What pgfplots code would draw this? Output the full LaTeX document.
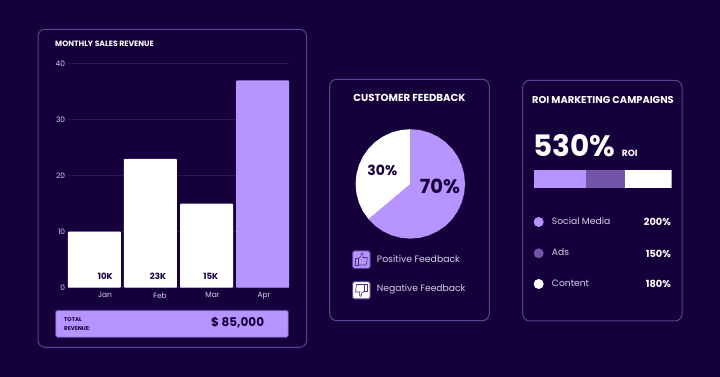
\documentclass[border=0pt]{standalone}
\usepackage{fontspec}
\setmainfont{Poppins}
\usepackage{pgfplots}
\pgfplotsset{compat=1.18}
\definecolor{bgc}{HTML}{15003C}
\definecolor{pur}{HTML}{B794FF}
\definecolor{mid}{HTML}{7354A6}
\definecolor{bord}{HTML}{5C4296}
\definecolor{gridc}{HTML}{2B1558}
\definecolor{lav}{HTML}{D8CFE8}
\newcommand{\fs}[1]{\fontsize{#1}{#1}\selectfont}
\begin{document}
\begin{tikzpicture}
% page background
\fill[bgc] (0,0) rectangle (720pt,377pt);
\begin{scope}[x=1pt,y=-1pt,yshift=377pt]
\draw[bord,line width=1pt,rounded corners=7pt] (38,29.3) rectangle (306.7,347.3);
\draw[bord,line width=1pt,rounded corners=7pt] (329.7,79.3) rectangle (489.3,320.7);
\draw[bord,line width=1pt,rounded corners=7pt] (522.7,80.3) rectangle (682,321);
\end{scope}
% bar chart
\begin{axis}[
  at={(67.7pt,89.3pt)},anchor=south west,
  scale only axis,width=221.6pt,height=224pt,
  xmin=-0.473,xmax=3.473,ymin=0,ymax=40,
  axis line style={draw=none},
  tick style={draw=none},
  xtick=\empty,
  ytick={0,10,20,30,40},
  ymajorgrids,grid style={gridc,line width=0.8pt},
  yticklabel style={text=lav,font=\fs{7.5},xshift=1pt},
  /pgf/number format/assume math mode=true,
  ybar,bar width=53pt,
  clip=false]
\addplot[bar shift=0pt,fill=white,draw=none,rounded corners=0.8pt] coordinates {(0,10) (1,23) (2,15)};
\addplot[bar shift=0pt,fill=pur,draw=none,rounded corners=0.8pt] coordinates {(3,37)};
\end{axis}
% pie and stacked ROI bar
\begin{axis}[
  at={(355.6pt,138.4pt)},anchor=south west,
  scale only axis,width=109.4pt,height=109.4pt,
  xmin=-1,xmax=1,ymin=-1,ymax=1,
  hide axis,clip=false]
\addplot[fill=pur,draw=none] coordinates {(0,0) (0,1) (.1736,.9848) (.342,.9397) (.5,.866) (.6428,.766) (.766,.6428) (.866,.5) (.9397,.342) (.9848,.1736) (1,0) (.9848,-.1736) (.9397,-.342) (.866,-.5) (.766,-.6428) (.6428,-.766) (.5,-.866) (.342,-.9397) (.1736,-.9848) (0,-1) (-.1736,-.9848) (-.342,-.9397) (-.5,-.866) (-.6428,-.766) (-.766,-.6428)} -- cycle;
\addplot[fill=white,draw=none] coordinates {(0,0) (-.766,-.6428) (-.866,-.5) (-.9397,-.342) (-.9848,-.1736) (-1,0) (-.9848,.1736) (-.9397,.342) (-.866,.5) (-.766,.6428) (-.6428,.766) (-.5,.866) (-.342,.9397) (-.1736,.9848) (0,1)} -- cycle;
\end{axis}
\begin{axis}[
  at={(533.7pt,189.3pt)},anchor=south west,
  scale only axis,width=138pt,height=17.4pt,
  xmin=0,xmax=530,ymin=0,ymax=1,
  hide axis,xbar stacked,bar width=17.4pt,bar shift=0pt]
\addplot[fill=pur,draw=none] coordinates {(200,0.5)};
\addplot[fill=mid,draw=none] coordinates {(150,0.5)};
\addplot[fill=white,draw=none] coordinates {(180,0.5)};
\end{axis}
\begin{scope}[x=1pt,y=-1pt,yshift=377pt]
% texts panel 1
\node[anchor=west,inner sep=0,text=white,font=\fs{7.7}\bfseries] at (55,44) {MONTHLY SALES REVENUE};
\foreach \x/\y/\t in {105/295/Jan,160/295.5/Feb,212.5/294.7/Mar,264/296/Apr}
  \node[text=lav,font=\fs{7.5},inner sep=0] at (\x,\y) {\t};
\foreach \x/\t in {105.3/10K,158/23K,210.7/15K}
  \node[text=bgc,font=\fs{8.6}\bfseries,inner sep=0] at (\x,276.7) {\t};
\fill[pur,draw=bord,line width=0.8pt,rounded corners=1.5pt] (55.7,310.3) rectangle (288.3,337.3);
\node[anchor=west,inner sep=0,text=bgc,font=\fs{5.5}\bfseries] at (64,319.5) {TOTAL};
\node[anchor=west,inner sep=0,text=bgc,font=\fs{5.5}\bfseries] at (64,328.5) {REVENUE:};
\node[anchor=west,inner sep=0,text=bgc,font=\fs{12}\bfseries] at (211,322.7) {\$ 85,000};
% panel 2
\node[inner sep=0,text=white,font=\fs{10.2}\bfseries] at (409.5,98) {CUSTOMER FEEDBACK};
\node[inner sep=0,text=bgc,font=\fs{19.5}\bfseries] at (440,186) {70\%};
\node[inner sep=0,text=bgc,font=\fs{14}\bfseries] at (382.3,170) {30\%};
\fill[pur,draw=bord,line width=1pt,rounded corners=1.5pt] (352.7,251) rectangle (370,268.3);
\fill[white,draw=bord,line width=1pt,rounded corners=1.5pt] (352.7,281.7) rectangle (370,299);
\begin{scope}[line width=0.6pt,draw=bord!70!bgc,line join=round]
\draw (355.5,258.5) rectangle (358.3,265);
\draw (358.3,258.7) -- (360.8,256.5) -- (361.5,253.3) -- (362.8,253.6) -- (363,257.5) -- (367.3,257.5) -- (366.3,265) -- (358.3,265);
\draw (367,284.5) rectangle (364.3,291);
\draw (364.3,291) -- (361.8,293) -- (361,296.3) -- (359.8,296) -- (359.7,292) -- (355.5,292) -- (356.5,284.5) -- (364.3,284.5);
\end{scope}
\node[anchor=west,inner sep=0,text=lav,font=\fs{9.3}] at (376.7,259) {Positive Feedback};
\node[anchor=west,inner sep=0,text=lav,font=\fs{9.2}] at (376.7,289) {Negative Feedback};
% panel 3
\node[inner sep=0,text=white,font=\fs{9.9}\bfseries] at (603,100.5) {ROI MARKETING CAMPAIGNS};
\node[anchor=west,inner sep=0,text=white,font=\fs{29.5}\bfseries] at (533.5,145.7) {530\%};
\node[anchor=west,inner sep=0,text=white,font=\fs{9}\bfseries] at (621.7,153) {ROI};
\fill[pur] (538.7,222) circle (5);
\fill[mid] (538.7,253.3) circle (5);
\fill[white] (538.7,284) circle (5);
\foreach \y/\t in {221/Social Media,252.5/Ads,283/Content}
  \node[anchor=west,inner sep=0,text=lav,font=\fs{9.2}] at (551.7,\y) {\t};
\foreach \y/\t in {222/200\%,253.5/150\%,283.5/180\%}
  \node[anchor=east,inner sep=0,text=white,font=\fs{9.8}\bfseries] at (671,\y) {\t};
\end{scope}
\path[use as bounding box] (0,0) rectangle (720pt,377pt);
\end{tikzpicture}
\end{document}
